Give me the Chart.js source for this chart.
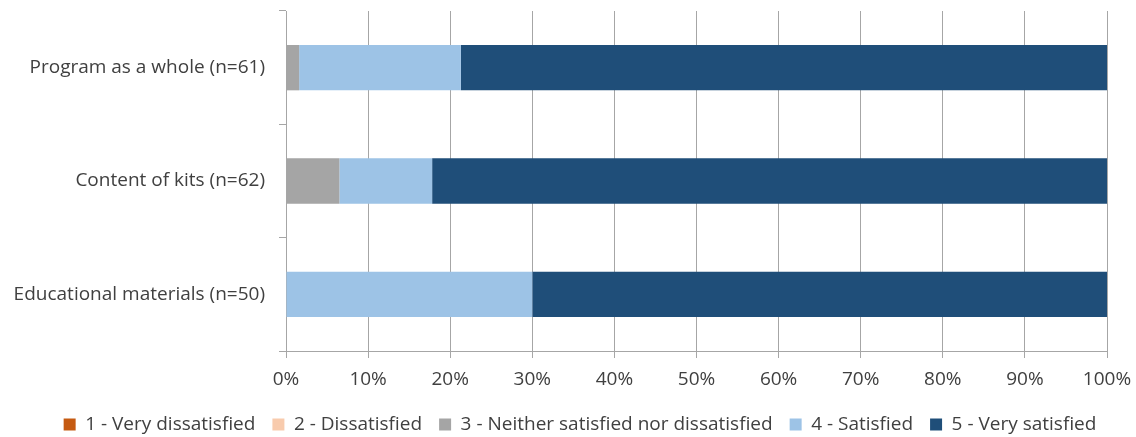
<!DOCTYPE html>
<html>
<head>
<meta charset="utf-8">
<script src="https://cdn.jsdelivr.net/npm/chart.js@4"></script>
<style>
  html, body { margin: 0; padding: 0; background: #ffffff; }
  #wrap { width: 1136px; height: 437px; }
</style>
</head>
<body>
<div id="wrap"><canvas id="c" width="1136" height="437"></canvas></div>
<script>
// Satisfaction ratings, share of respondents (%)
const categories = ['Program as a whole (n=61)', 'Content of kits (n=62)', 'Educational materials (n=50)'];
const seriesNames = ['1 - Very dissatisfied', '2 - Dissatisfied', '3 - Neither satisfied nor dissatisfied', '4 - Satisfied', '5 - Very satisfied'];
const veryDissatisfied = [0, 0, 0];
const dissatisfied = [0, 0, 0];
const neutral = [1.6, 6.5, 0];
const satisfied = [19.7, 11.3, 30];
const verySatisfied = [78.7, 82.2, 70];
const xTicks = [0, 10, 20, 30, 40, 50, 60, 70, 80, 90, 100];

const colors = ['#C55A11', '#F8CBAD', '#A5A5A5', '#9DC3E6', '#1F4E79'];
const values = [veryDissatisfied, dissatisfied, neutral, satisfied, verySatisfied];

const FONT = { family: "'Open Sans', sans-serif", size: 19 };
const TEXT = '#404040';
const GRID = '#a6a6a6';

// Nudge the legend row so it is centred under the plot rather than the canvas
const legendShift = {
  id: 'legendShift',
  afterLayout(chart) {
    const lg = chart.legend;
    if (!lg) return;
    lg.left = 24;
    lg.width = lg.right - lg.left;
  }
};

new Chart(document.getElementById('c'), {
  type: 'bar',
  data: {
    labels: categories,
    datasets: seriesNames.map((name, i) => ({
      label: name,
      data: values[i],
      backgroundColor: colors[i],
      borderWidth: 0,
      categoryPercentage: 1,
      barPercentage: 0.4
    }))
  },
  options: {
    indexAxis: 'y',
    responsive: false,
    animation: false,
    layout: { padding: { top: 11, right: 0, left: 0, bottom: 0 } },
    scales: {
      x: {
        stacked: true,
        min: 0,
        max: 100,
        afterBuildTicks: (scale) => { scale.ticks = xTicks.map(v => ({ value: v })); },
        afterFit: (scale) => { scale.height = 47; scale.paddingLeft = 0; scale.paddingRight = 29; },
        ticks: {
          callback: (v) => v + '%',
          color: TEXT,
          font: FONT,
          padding: 10,
          maxRotation: 0
        },
        grid: { color: GRID, lineWidth: 1, tickLength: 7, drawTicks: true },
        border: { color: GRID, width: 1 }
      },
      y: {
        stacked: true,
        afterFit: (scale) => { scale.width = 286; scale.paddingTop = 0; scale.paddingBottom = 0; },
        ticks: { color: TEXT, font: FONT, padding: 14 },
        grid: { offset: true, drawOnChartArea: false, drawTicks: true, tickLength: 7, color: GRID, lineWidth: 1 },
        border: { color: GRID, width: 1 }
      }
    },
    plugins: {
      legend: {
        position: 'bottom',
        maxHeight: 39,
        labels: {
          boxWidth: 12,
          boxHeight: 12,
          padding: 17,
          color: TEXT,
          font: FONT
        }
      },
      tooltip: { enabled: false }
    }
  },
  plugins: [legendShift]
});
</script>
</body>
</html>
